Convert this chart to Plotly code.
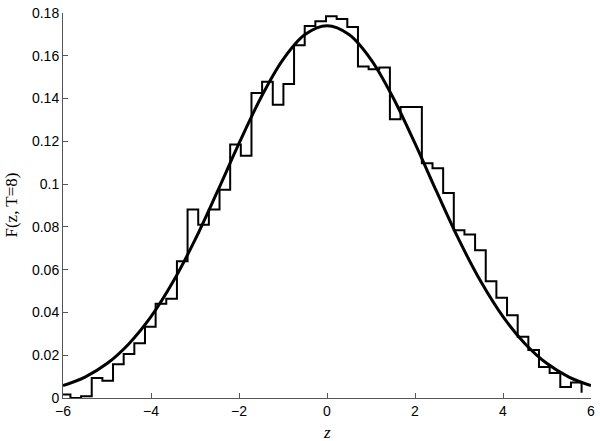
import numpy as np
import plotly.graph_objects as go

HIST_START = -6.0
EDGE_FIRST = -5.831
EDGE_LAST = 5.786
HIST_VALUES = [
    0.0016, 0.0000, 0.0008, 0.0094, 0.0081, 0.0158, 0.0206, 0.0256, 0.0333, 0.0441,
    0.0464, 0.0639, 0.0881, 0.0810, 0.0881, 0.0974, 0.1185, 0.1133, 0.1426, 0.1479,
    0.1371, 0.1468, 0.1649, 0.1739, 0.1762, 0.1785, 0.1772, 0.1735, 0.1550, 0.1537,
    0.1545, 0.1303, 0.1360, 0.1360, 0.1097, 0.1074, 0.0958, 0.0784, 0.0765, 0.0691,
    0.0546, 0.0469, 0.0387, 0.0286, 0.0225, 0.0145, 0.0117, 0.0052, 0.0073, 0.0024,
]

# smooth theoretical curve
CURVE_Z = [-6, -5.5, -5, -4.5, -4, -3.5, -3, -2.5, -2, -1.5, -1, -0.5, 0,
           0.5, 1, 1.5, 2, 2.5, 3, 3.5, 4, 4.5, 5, 5.5, 6]
CURVE_F = [0.0058, 0.0098, 0.0161, 0.0254, 0.0380, 0.0543, 0.0739, 0.0961, 0.1190,
           0.1405, 0.1582, 0.1699, 0.1740, 0.1699, 0.1582, 0.1405, 0.1190, 0.0961,
           0.0739, 0.0543, 0.0380, 0.0254, 0.0161, 0.0098, 0.0058]

Y_TICKS = [0, 0.02, 0.04, 0.06, 0.08, 0.1, 0.12, 0.14, 0.16, 0.18]
Y_TICKTEXT = ["0", "0.02", "0.04", "0.06", "0.08", "0.1", "0.12", "0.14", "0.16", "0.18"]
X_TICKS = [-6, -4, -2, 0, 2, 4, 6]

hist_x = [HIST_START] + list(np.linspace(EDGE_FIRST, EDGE_LAST, len(HIST_VALUES) - 1))

fig = go.Figure()

fig.add_trace(go.Scatter(
    x=hist_x, y=HIST_VALUES,
    mode="lines", line=dict(color="black", width=2, shape="hv"),
    showlegend=False, hoverinfo="skip",
))

fig.add_trace(go.Scatter(
    x=CURVE_Z, y=CURVE_F,
    mode="lines", line=dict(color="black", width=3, shape="spline"),
    showlegend=False,
))

axis_common = dict(
    showgrid=False, zeroline=False,
    showline=True, linecolor="#555555", linewidth=1,
    ticks="inside", ticklen=5, tickcolor="#555555",
    tickfont=dict(family="Liberation Sans, Arial", size=14, color="black"),
    mirror=False,
)

fig.update_xaxes(range=[-6, 6], tickvals=X_TICKS, **axis_common)
fig.update_yaxes(range=[0, 0.18], tickvals=Y_TICKS, ticktext=Y_TICKTEXT, **axis_common)

# axis labels
fig.add_annotation(
    text="F(z, T=8)", textangle=-90,
    xref="paper", yref="paper", x=0, y=0.5,
    xanchor="center", yanchor="middle", xshift=-52,
    showarrow=False,
    font=dict(family="Liberation Serif, Times New Roman", size=17, color="black"),
)
fig.add_annotation(
    text="<i>z</i>",
    xref="paper", yref="paper", x=0.5, y=0,
    xanchor="center", yanchor="middle", yshift=-34,
    showarrow=False,
    font=dict(family="Liberation Serif, Times New Roman", size=17, color="black"),
)

fig.update_layout(
    width=600, height=441,
    margin=dict(l=63, r=5, t=10, b=43),
    plot_bgcolor="white", paper_bgcolor="white",
)

# drop the page's default body margin so the figure sits at the window corner
fig.write_html("out.html", config={"displayModeBar": False},
               post_script="document.body.style.margin='0px';")
